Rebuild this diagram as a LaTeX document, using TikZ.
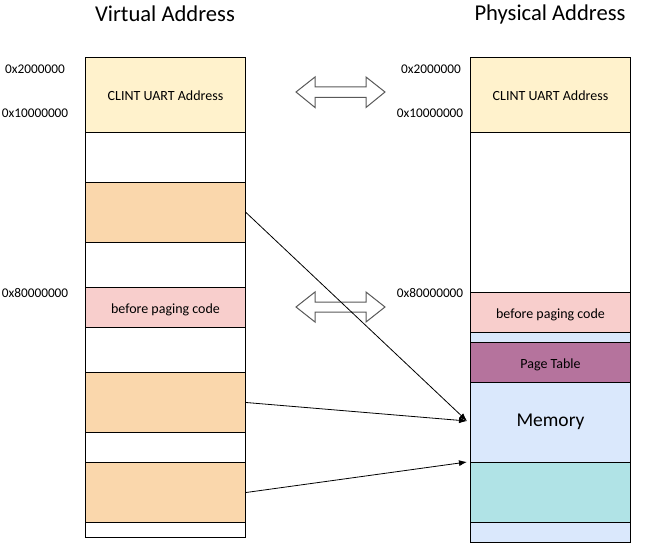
\documentclass[tikz,border=0pt]{standalone}
\usepackage{fontspec}
\setmainfont{Carlito}
\usetikzlibrary{arrows.meta}
\begin{document}
\begin{tikzpicture}[x=1pt,y=-1pt,
  blk/.style={draw=black,line width=1pt,anchor=north west,inner sep=0pt,minimum width=160pt,text height=12pt,text depth=0pt,font=\fontsize{14}{16}\selectfont},
  addr/.style={inner sep=0pt,font=\fontsize{13.3}{15}\selectfont},
  ttl/.style={inner sep=0pt,font=\fontsize{22.6}{26}\selectfont},
  conn/.style={line width=0.8pt,-{Latex[length=8pt,width=6pt]}},
  dbl/.style={draw=black!65,line width=1pt,fill=white,line join=miter}]
\useasboundingbox (0,0) rectangle (646,543);
\definecolor{cyel}{HTML}{FFF2CC}
\definecolor{corg}{HTML}{FAD7AC}
\definecolor{cpink}{HTML}{F8CECC}
\definecolor{cblue}{HTML}{DAE8FC}
\definecolor{cpur}{HTML}{B5739D}
\definecolor{cteal}{HTML}{B0E3E6}
% titles
\node[ttl] (tv) at (165,14) {Virtual Address};
\node[ttl] (tp) at (550,14) {Physical Address};
% left column
\node[blk,fill=cyel,minimum height=75pt] (l1) at (85,57) {CLINT UART Address};
\node[blk,fill=white,minimum height=50pt] (l2) at (85,132) {};
\node[blk,fill=corg,minimum height=60pt] (l3) at (85,182) {};
\node[blk,fill=white,minimum height=45pt] (l4) at (85,242) {};
\node[blk,fill=cpink,minimum height=40pt] (l5) at (85,287) {before paging code};
\node[blk,fill=white,minimum height=45pt] (l6) at (85,327) {};
\node[blk,fill=corg,minimum height=60pt] (l7) at (85,372) {};
\node[blk,fill=white,minimum height=30pt] (l8) at (85,432) {};
\node[blk,fill=corg,minimum height=60pt] (l9) at (85,462) {};
\node[blk,fill=white,minimum height=15pt] (l10) at (85,522) {};
% right column
\node[blk,fill=cyel,minimum height=75pt] (r1) at (470,57) {CLINT UART Address};
\node[blk,fill=white,minimum height=160pt] (r2) at (470,132) {};
\node[blk,fill=cpink,minimum height=40pt] (r3) at (470,292) {before paging code};
\node[blk,fill=cblue,minimum height=10pt] (r4) at (470,332) {};
\node[blk,fill=cpur,minimum height=40pt] (r5) at (470,342) {Page Table};
\node[blk,fill=cblue,minimum height=80pt,text height=8pt,font=\fontsize{19.5}{22}\selectfont] (r6) at (470,382) {Memory};
\node[blk,fill=cteal,minimum height=60pt] (r7) at (470,462) {};
\node[blk,fill=cblue,minimum height=20pt] (r8) at (470,522) {};
% address labels
\node[addr] (a1) at (35,69) {0x2000000};
\node[addr] (a2) at (35,113) {0x10000000};
\node[addr] (a3) at (35,293) {0x80000000};
\node[addr] (b1) at (431,69) {0x2000000};
\node[addr] (b2) at (430,113) {0x10000000};
\node[addr] (b3) at (430,293) {0x80000000};
% double arrows
\draw[dbl] (296,92) -- (315,77) -- (315,87) -- (366,87) -- (366,77) -- (385,92) -- (366,107.5) -- (366,97.5) -- (315,97.5) -- (315,107.5) -- cycle;
\draw[dbl] (296,307) -- (315,292) -- (315,302) -- (366,302) -- (366,292) -- (385,307) -- (366,322) -- (366,312) -- (315,312) -- (315,322) -- cycle;
% connectors
\coordinate (m1) at (467,421);
\coordinate (m2) at (467,462);
\draw[conn] (l3.east) -- (m1);
\draw[conn] (l7.east) -- (m1);
\draw[conn] (l9.east) -- (m2);
\end{tikzpicture}
\end{document}
